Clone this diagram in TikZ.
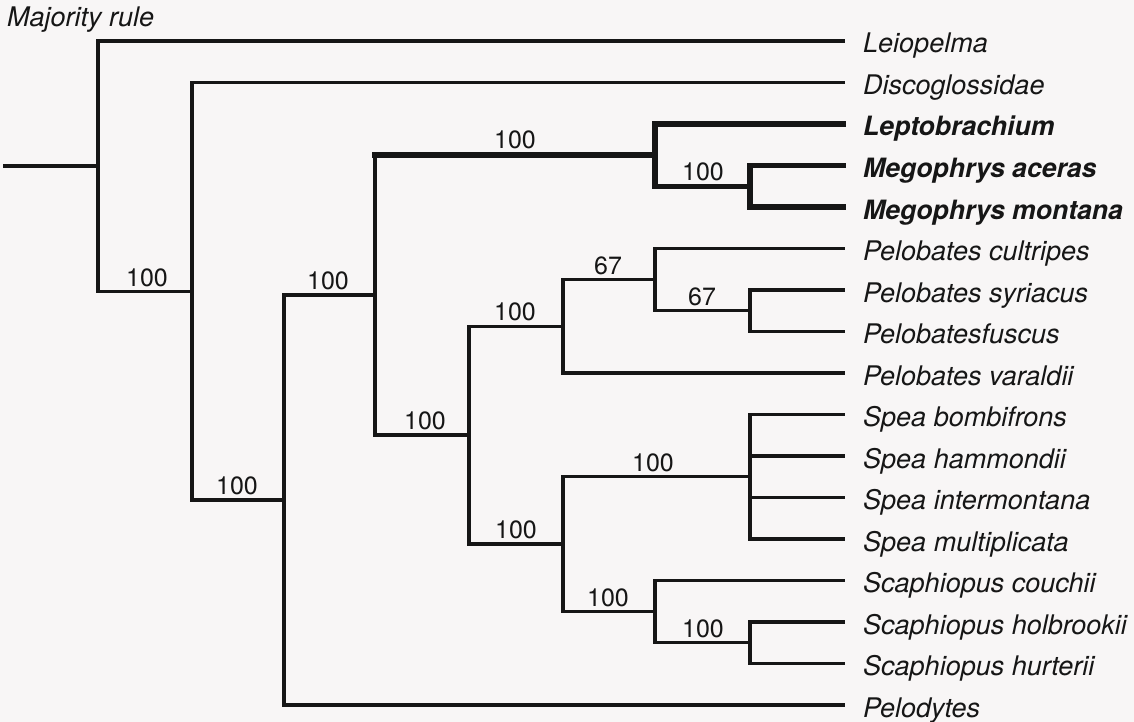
\documentclass[tikz,border=0pt]{standalone}
\usepackage{fontspec}
\setmainfont{TeX Gyre Heros}
\definecolor{bg}{RGB}{248,246,246}
\definecolor{ink}{RGB}{22,22,22}
\begin{document}
\begin{tikzpicture}[x=1pt,y=-1pt,
  br/.style={draw=ink, line width=3.2pt, line cap=rect},
  thk/.style={draw=ink, line width=5.4pt, line cap=rect},
  leaf/.style={anchor=base west, inner sep=0pt, text=ink, font=\fontsize{27}{31}\selectfont\itshape},
  bleaf/.style={anchor=base west, inner sep=0pt, text=ink, font=\fontsize{26.6}{31}\selectfont\bfseries\itshape},
  bsval/.style={anchor=base, inner sep=0pt, text=ink, font=\fontsize{25}{29}\selectfont}]
\fill[bg] (0,0) rectangle (1134,722);
\useasboundingbox (0,0) rectangle (1134,722);
\node[leaf] (title) at (7,27) {Majority rule};
% leaves
\foreach \i/\n/\s in {0/Leiopelma/leaf, 1/Discoglossidae/leaf, 2/Leptobrachium/bleaf,
  3/Megophrys aceras/bleaf, 4/Megophrys montana/bleaf, 5/Pelobates cultripes/leaf,
  6/Pelobates syriacus/leaf, 7/Pelobatesfuscus/leaf, 8/Pelobates varaldii/leaf,
  9/Spea bombifrons/leaf, 10/Spea hammondii/leaf, 11/Spea intermontana/leaf,
  12/Spea multiplicata/leaf, 13/Scaphiopus couchii/leaf, 14/Scaphiopus holbrookii/leaf,
  15/Scaphiopus hurterii/leaf, 16/Pelodytes/leaf}{
  \coordinate (l\i) at (843,{41+41.5*\i});
  \node[\s] (t\i) at (863,{53+41.5*\i}) {\n};
}
% internal nodes
\coordinate (r0) at (5,166);
\coordinate (A) at (98,166);
\coordinate (B) at (192,291.25);
\coordinate (C) at (284,500);
\coordinate (D) at (375,295);
\coordinate (F) at (655,155.1);
\coordinate (G) at (750,186.25);
\coordinate (E) at (469,435);
\coordinate (H) at (563,326.2);
\coordinate (I) at (655,279.4);
\coordinate (J) at (750,310.75);
\coordinate (K) at (563,544);
\coordinate (S) at (750,476.75);
\coordinate (L) at (655,611.6);
\coordinate (M) at (750,642.75);
% root
\draw[br] (r0) -- (A);
\draw[br] (A |- l0) -- (A |- B);
\draw[br] (A |- l0) -- (l0);
\draw[br] (A |- B) -- (B);
% B
\draw[br] (B |- l1) -- (B |- C);
\draw[br] (B |- l1) -- (l1);
\draw[br] (B |- C) -- (C);
% C
\draw[br] (C |- D) -- (C |- l16);
\draw[br] (C |- D) -- (D);
\draw[br] (C |- l16) -- (l16);
% D
\draw[br] (D |- F) -- (D |- E);
\draw[thk] (D |- F) -- (F);
\draw[br] (D |- E) -- (E);
% F
\draw[thk] (F |- l2) -- (F |- G);
\draw[thk] (F |- l2) -- (l2);
\draw[thk] (F |- G) -- (G);
% G
\draw[thk] (G |- l3) -- (G |- l4);
\draw[thk] (G |- l3) -- (l3);
\draw[thk] (G |- l4) -- (l4);
% E
\draw[br] (E |- H) -- (E |- K);
\draw[br] (E |- H) -- (H);
\draw[br] (E |- K) -- (K);
% H
\draw[br] (H |- I) -- (H |- l8);
\draw[br] (H |- I) -- (I);
\draw[br] (H |- l8) -- (l8);
% I
\draw[br] (I |- l5) -- (I |- J);
\draw[br] (I |- l5) -- (l5);
\draw[br] (I |- J) -- (J);
% J
\draw[br] (J |- l6) -- (J |- l7);
\draw[br] (J |- l6) -- (l6);
\draw[br] (J |- l7) -- (l7);
% K
\draw[br] (K |- S) -- (K |- L);
\draw[br] (K |- S) -- (S);
\draw[br] (K |- L) -- (L);
% S
\draw[br] (S |- l9) -- (S |- l12);
\foreach \i in {9,10,11,12}{\draw[br] (S |- l\i) -- (l\i);}
% L
\draw[br] (L |- l13) -- (L |- M);
\draw[br] (L |- l13) -- (l13);
\draw[br] (L |- M) -- (M);
% M
\draw[br] (M |- l14) -- (M |- l15);
\draw[br] (M |- l14) -- (l14);
\draw[br] (M |- l15) -- (l15);
% support values
\node[bsval] (vA) at (147,286) {100};
\node[bsval] (vB) at (237,494.5) {100};
\node[bsval] (vC) at (328,289.5) {100};
\node[bsval] (vD) at (515,149) {100};
\node[bsval] (vF) at (703,181) {100};
\node[bsval] (vE) at (425,429.5) {100};
\node[bsval] (vH) at (515,320.7) {100};
\node[bsval] (vI) at (608,274) {67};
\node[bsval] (vJ) at (702,305.2) {67};
\node[bsval] (vK) at (516,538.5) {100};
\node[bsval] (vS) at (653,471.2) {100};
\node[bsval] (vL) at (608,606) {100};
\node[bsval] (vM) at (703,637.2) {100};
\end{tikzpicture}
\end{document}
